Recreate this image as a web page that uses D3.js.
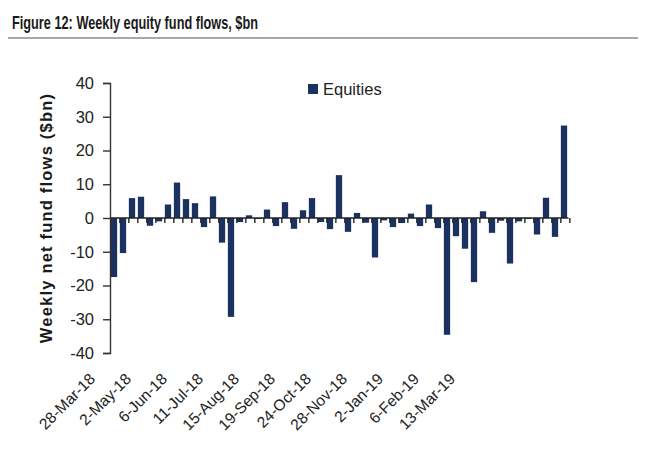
<!DOCTYPE html>
<html>
<head>
<meta charset="utf-8">
<script src="https://cdn.jsdelivr.net/npm/d3@7"></script>
<style>
  body { margin: 0; background: #fff; }
  text { font-family: "Liberation Sans", Arial, sans-serif; fill: #222; }
</style>
</head>
<body>
<svg id="chart" width="650" height="450"></svg>
<script>
var svg = d3.select('#chart');

// weekly net flows into equity funds, $bn, 28-Mar-18 .. 13-Mar-19
var flows = [
  -17.5, -10.4, 5.9, 6.3, -2.3, -1.0, 4.0, 10.5, 5.6, 4.4,
  -2.7, 6.4, -7.3, -29.3, -1.2, 0.8, -0.3, 2.5, -2.4, 4.7,
  -3.2, 2.3, 5.9, -1.2, -3.3, 12.7, -4.1, 1.5, -1.4, -11.7,
  -0.7, -2.7, -1.5, 1.3, -2.4, 4.0, -3.0, -34.6, -5.4, -9.1,
  -19.0, 2.0, -4.4, -0.8, -13.5, -1.0, -0.3, -4.9, 6.0, -5.6,
  27.4
];
var startWeek = new Date(2018, 2, 28);
var weeks = flows.map(function(d, i) { return d3.timeWeek.offset(startWeek, i); });

var tickLabels = ["28-Mar-18", "2-May-18", "6-Jun-18", "11-Jul-18", "15-Aug-18", "19-Sep-18",
                  "24-Oct-18", "28-Nov-18", "2-Jan-19", "6-Feb-19", "13-Mar-19"];
var yTicks = [-40, -30, -20, -10, 0, 10, 20, 30, 40];
var seriesName = "Equities";
var barColor = "#1b3260";

// title (narrow bold face in the original, so squeeze it)
svg.append("text").attr("x", 12).attr("y", 29)
  .style("font-size", "18px").style("font-weight", "bold").style("fill", "#1a1a1a")
  .attr("textLength", 246).attr("lengthAdjust", "spacingAndGlyphs")
  .text("Figure 12: Weekly equity fund flows, $bn");
svg.append("line").attr("x1", 8).attr("x2", 638).attr("y1", 38).attr("y2", 38)
  .attr("stroke", "#8a8a8a").attr("stroke-width", 1.5);

var x = d3.scaleBand().domain(weeks).range([109.5, 568.5]).paddingInner(0.3).paddingOuter(0.15);
var y = d3.scaleLinear().domain([-40, 40]).range([353, 83]);

// bars
svg.selectAll(".bar").data(flows).enter().append("rect").attr("class", "bar")
  .attr("x", function(d, i) { return x(weeks[i]); })
  .attr("width", x.bandwidth())
  .attr("y", function(d) { return y(Math.max(0, d)); })
  .attr("height", function(d) { return Math.abs(y(d) - y(0)); })
  .attr("fill", barColor);

// y axis (plain hyphen for negatives, like the original)
var yAxis = svg.append("g").attr("transform", "translate(110,0)")
  .call(d3.axisLeft(y).tickValues(yTicks).tickSize(7).tickPadding(9)
    .tickFormat(function(d) { return String(d); }));
yAxis.select(".domain").attr("stroke", "#333").attr("stroke-width", 1.4);
yAxis.selectAll(".tick line").attr("stroke", "#333").attr("stroke-width", 1.4);
yAxis.selectAll(".tick text").style("font-size", "16.5px").style("fill", "#222");

// zero line with category ticks
svg.append("line").attr("x1", 110).attr("x2", 568.5).attr("y1", y(0)).attr("y2", y(0))
  .attr("stroke", "#222").attr("stroke-width", 1.4);
svg.selectAll(".ztick").data(weeks).enter().append("line").attr("class", "ztick")
  .attr("x1", function(d) { return x(d) + x.step(); })
  .attr("x2", function(d) { return x(d) + x.step(); })
  .attr("y1", y(0)).attr("y2", y(0) + 5)
  .attr("stroke", "#222").attr("stroke-width", 1.4);

// date labels
var xl = d3.scalePoint().domain(tickLabels).range([96, 456]);
svg.selectAll(".xlab").data(tickLabels).enter().append("text").attr("class", "xlab")
  .attr("transform", function(d) { return "translate(" + xl(d) + ",380) rotate(-45)"; })
  .attr("text-anchor", "end")
  .style("font-size", "15.5px")
  .text(function(d) { return d; });

// y title
svg.append("text")
  .attr("transform", "translate(52,218) rotate(-90)")
  .attr("text-anchor", "middle")
  .style("font-size", "16.5px").style("font-weight", "bold").style("letter-spacing", "1.2px")
  .style("fill", "#1a1a1a")
  .text("Weekly net fund flows ($bn)");

// legend
var legend = svg.append("g").attr("transform", "translate(308,84)");
legend.append("rect").attr("width", 10).attr("height", 10).attr("fill", barColor);
legend.append("text").attr("x", 15).attr("y", 11).style("font-size", "16.5px").text(seriesName);
</script>
</body>
</html>
